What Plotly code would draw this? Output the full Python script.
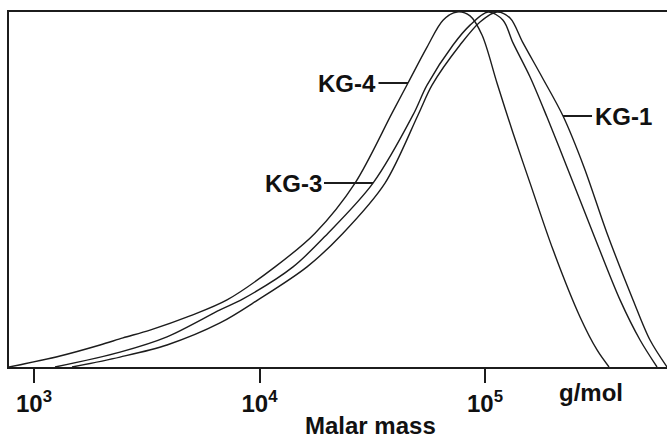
import numpy as np
import plotly.graph_objects as go

# Molar mass (g/mol) and relative height (peak = 1)
kg4_m = [774.5, 1304, 1962, 2481, 3268, 4918, 7176, 11715, 17630, 26520, 38690, 45540,
         55310, 65120, 75120, 85810, 96990, 113000, 133100, 158400, 200300, 263800,
         313900, 354700]
kg4_h = [0.0, 0.031, 0.062, 0.082, 0.104, 0.144, 0.189, 0.282, 0.377, 0.518, 0.715, 0.800,
         0.901, 0.977, 1.0, 0.989, 0.935, 0.800, 0.659, 0.518, 0.330, 0.141,
         0.048, 0.0]

kg3_m = [1239, 2406, 3888, 6679, 8450, 14080, 20130, 31860, 47940, 55310, 72130, 85810,
         103100, 120200, 133100, 158400, 188300, 231000, 301300, 396900, 486900, 579100]
kg3_h = [0.0, 0.042, 0.085, 0.161, 0.192, 0.282, 0.377, 0.518, 0.710, 0.794, 0.907, 0.963,
         1.0, 0.977, 0.913, 0.817, 0.704, 0.563, 0.377, 0.189, 0.076, 0.0]

kg1_m = [1474, 2406, 3888, 6679, 9847, 16240, 23460, 36020, 50460, 58210, 77460, 95020,
         113000, 129100, 147400, 178900, 221800, 274800, 347500, 453300, 539100, 641500]
kg1_h = [0.0, 0.028, 0.062, 0.124, 0.189, 0.282, 0.377, 0.518, 0.710, 0.794, 0.907, 0.972,
         1.0, 0.983, 0.913, 0.817, 0.707, 0.563, 0.377, 0.189, 0.076, 0.0]

tick_vals = [1e3, 1e4, 1e5]
tick_text = ["<b>10<sup>3</sup></b>", "<b>10<sup>4</sup></b>", "<b>10<sup>5</sup></b>"]

labels = ["KG-4", "KG-3", "KG-1"]
label_idx = [11, 7, 16]          # curve point each leader line touches
label_ax = [-61, -80, 60]

LINE = "#1c1c1c"
FONT = "Liberation Sans, Arial, sans-serif"
FS = 24

fig = go.Figure()
series = [(kg4_m, kg4_h), (kg3_m, kg3_h), (kg1_m, kg1_h)]
for (m, h), name in zip(series, labels):
    fig.add_trace(go.Scatter(x=m, y=h, mode="lines", name=name,
                             line=dict(color=LINE, width=1.4, shape="spline", smoothing=0.9),
                             showlegend=False, hoverinfo="skip"))

for (m, h), name, i, ax in zip(series, labels, label_idx, label_ax):
    fig.add_annotation(x=np.log10(m[i]), y=h[i], xref="x", yref="y", text="<b>%s</b>" % name,
                       showarrow=True, arrowhead=0, arrowwidth=2, arrowcolor=LINE,
                       ax=ax, ay=0, standoff=0, startstandoff=1,
                       font=dict(family=FONT, size=FS, color="#111"))

fig.add_annotation(x=0.8845, y=-0.073, xref="paper", yref="paper", text="<b>g/mol</b>",
                   showarrow=False, xanchor="center", yanchor="middle",
                   font=dict(family=FONT, size=FS, color="#111"))
fig.add_annotation(x=0.550, y=-0.166, xref="paper", yref="paper", text="<b>Malar mass</b>",
                   showarrow=False, xanchor="center", yanchor="middle",
                   font=dict(family=FONT, size=FS, color="#111"))

fig.update_layout(
    width=667, height=441,
    margin=dict(l=9, r=0, t=12, b=74),
    paper_bgcolor="white", plot_bgcolor="white",
    xaxis=dict(type="log", range=[np.log10(774.5), 5.807],
               tickvals=tick_vals, ticktext=tick_text,
               ticks="outside", ticklen=14, tickwidth=1.5, tickcolor=LINE,
               showline=True, linecolor=LINE, linewidth=2, mirror=True,
               showgrid=False, zeroline=False,
               tickfont=dict(family=FONT, size=FS, color="#111"),
               ticklabelstandoff=0),
    yaxis=dict(range=[0, 1.0], showticklabels=False, ticks="",
               showline=True, linecolor=LINE, linewidth=2,
               showgrid=False, zeroline=False),
)

fig.write_html("out.html")
